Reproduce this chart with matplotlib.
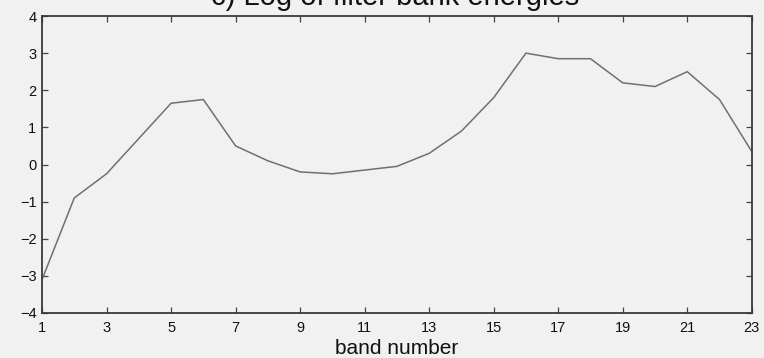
import numpy as np
import matplotlib
matplotlib.use("Agg")
import matplotlib.pyplot as plt

# Log filter bank energies per band
bands = list(range(1, 24))
log_energy = [-3.1, -0.9, -0.25, 0.7, 1.65, 1.75, 0.5, 0.1, -0.2, -0.25,
              -0.15, -0.05, 0.3, 0.9, 1.8, 3.0, 2.85, 2.85, 2.2, 2.1,
              2.5, 1.75, 0.35]
xticks = list(range(1, 24, 2))
yticks = list(range(-4, 5))

plt.rcParams["font.family"] = ["Liberation Sans", "DejaVu Sans"]
bg = "#f1f1f1"

fig = plt.figure(figsize=(7.64, 3.58), dpi=100, facecolor=bg)
ax = fig.add_axes([0.055, 0.1257, 0.929, 0.8296], facecolor=bg)

ax.plot(bands, log_energy, color="#707070", linewidth=1.1)

ax.set_xlim(1, 23)
ax.set_ylim(-4, 4)
ax.set_xticks(xticks)
ax.set_yticks(yticks)
ax.set_yticklabels([str(v).replace("-", "\u2212") for v in yticks])
ax.tick_params(direction="in", length=4, width=0.9, colors="#444444",
               labelcolor="#111111", labelsize=10.5, top=True, right=True)
ax.tick_params(axis="x", pad=6)
ax.tick_params(axis="y", pad=4)
for s in ax.spines.values():
    s.set_color("#3a3a3a")
    s.set_linewidth(1.3)

ax.set_xlabel("band number", fontsize=15, color="#111111", labelpad=3)
fig.text(0.517, 1 - 5 / 358, "c) Log of filter bank energies", fontsize=21,
         color="#111111", ha="center", va="baseline")

fig.savefig("out.png", dpi=100, facecolor=bg)
